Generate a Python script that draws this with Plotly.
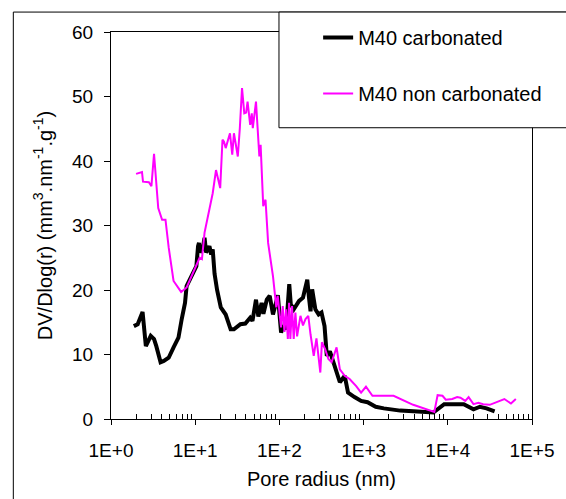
import numpy as np
import plotly.graph_objects as go

# log10 of pore radius (nm) and DV/Dlog(r)
carb_log_r = [0.271, 0.317, 0.375, 0.414, 0.472, 0.511, 0.538, 0.589, 0.627, 0.685,
              0.743, 0.801, 0.84, 0.879, 0.898, 0.956, 1.014, 1.034, 1.045, 1.06,
              1.09, 1.111, 1.13, 1.169, 1.19, 1.208, 1.23, 1.26, 1.304, 1.362,
              1.421, 1.46, 1.537, 1.595, 1.653, 1.68, 1.722, 1.75, 1.789, 1.81,
              1.85, 1.885, 1.924, 1.982, 2.02, 2.05, 2.079, 2.117, 2.135, 2.17,
              2.2, 2.234, 2.28, 2.331, 2.35, 2.37, 2.389, 2.427, 2.466, 2.5,
              2.536, 2.563, 2.6, 2.64, 2.68, 2.718, 2.776, 2.815, 2.892, 2.97,
              3.047, 3.144, 3.24, 3.434, 3.589, 3.829, 3.957, 4.015, 4.189, 4.305,
              4.382, 4.46, 4.556]
carb_dv = [14.4, 14.7, 16.6, 11.3, 12.9, 12.4, 11.3, 8.8, 9.0, 9.5,
           11.1, 12.6, 15.5, 18.0, 20.6, 22.1, 23.7, 26.8, 27.3, 25.8,
           26.5, 28.1, 25.8, 26.8, 25.5, 26.3, 22.5, 20.0, 17.3, 16.2,
           13.9, 13.9, 14.7, 14.8, 15.7, 15.2, 18.5, 15.9, 18.0, 16.3,
           18.5, 19.1, 16.2, 19.2, 13.4, 14.5, 13.9, 20.9, 17.8, 17.0,
           17.5, 18.3, 18.8, 21.6, 19.0, 16.7, 20.1, 17.0, 16.2, 16.5,
           14.4, 9.8, 10.5, 8.8, 7.5, 5.7, 6.7, 4.1, 3.4, 2.8,
           2.6, 1.9, 1.65, 1.3, 1.2, 1.0, 2.3, 2.3, 2.3, 1.5,
           1.9, 1.65, 1.2]

noncarb_log_r = [0.298, 0.368, 0.38, 0.45, 0.48, 0.511, 0.561, 0.607, 0.647, 0.685,
                 0.743, 0.833, 0.898, 1.034, 1.053, 1.08, 1.111, 1.208, 1.247, 1.297,
                 1.324, 1.342, 1.362, 1.413, 1.44, 1.46, 1.506, 1.53, 1.556, 1.583,
                 1.605, 1.622, 1.653, 1.672, 1.684, 1.722, 1.762, 1.777, 1.808, 1.835,
                 1.847, 1.866, 1.924, 1.963, 1.98, 2.02, 2.04, 2.06, 2.08, 2.10,
                 2.115, 2.13, 2.15, 2.17, 2.19, 2.21, 2.25, 2.28, 2.31, 2.343,
                 2.37, 2.408, 2.44, 2.486, 2.505, 2.544, 2.582, 2.62, 2.679, 2.718,
                 2.776, 2.834, 2.912, 2.97, 3.028, 3.105, 3.318, 3.356, 3.589, 3.84,
                 3.879, 3.937, 3.976, 4.053, 4.111, 4.15, 4.208, 4.247, 4.305, 4.363,
                 4.42, 4.498, 4.595, 4.672, 4.75, 4.808]
noncarb_dv = [38.0, 38.3, 36.8, 36.7, 36.1, 41.1, 32.7, 30.9, 30.9, 26.6,
              21.4, 19.7, 20.4, 24.7, 25.0, 24.8, 28.9, 35.0, 38.6, 35.8,
              43.3, 43.0, 42.0, 44.3, 41.0, 44.3, 40.7, 45.1, 51.3, 47.4,
              47.5, 49.2, 45.6, 47.4, 45.1, 49.2, 40.7, 42.5, 33.0, 34.0,
              30.9, 27.3, 22.1, 17.3, 19.1, 14.2, 17.5, 13.5, 17.0, 12.4,
              18.0, 12.4, 17.5, 12.4, 16.5, 12.8, 16.0, 14.5, 15.5, 16.0,
              13.1, 9.8, 12.5, 7.2, 11.9, 10.8, 9.3, 8.8, 11.1, 7.7,
              6.7, 6.2, 5.1, 4.1, 5.0, 3.6, 3.6, 3.6, 2.2, 1.1,
              3.7, 3.6, 3.0, 3.1, 3.4, 3.3, 2.8, 3.4, 2.3, 2.5,
              2.3, 2.2, 2.7, 3.1, 2.4, 3.1]

x_tickvals = [1, 10, 100, 1000, 10000, 100000]
x_ticktext = ["1E+0", "1E+1", "1E+2", "1E+3", "1E+4", "1E+5"]
series_names = ["M40 carbonated", "M40 non carbonated"]

carb_r = np.power(10.0, carb_log_r)
noncarb_r = np.power(10.0, noncarb_log_r)

minor_vals = [m * 10 ** d for d in range(5) for m in range(2, 10)]

FONT = "Liberation Sans, Arial, sans-serif"

fig = go.Figure()
fig.add_trace(go.Scatter(x=carb_r, y=carb_dv, mode="lines", name=series_names[0],
                         line=dict(color="black", width=4), legendgroup="a"))
fig.add_trace(go.Scatter(x=noncarb_r, y=noncarb_dv, mode="lines", name=series_names[1],
                         line=dict(color="#FF00FF", width=2), legendgroup="b"))

fig.update_layout(
    width=566, height=499,
    margin=dict(l=111, r=24, t=32, b=79),
    paper_bgcolor="white", plot_bgcolor="white",
    font=dict(family=FONT, size=19, color="black"),
    showlegend=True,
    legend=dict(x=0.492, xanchor="left", y=1.036, yanchor="top",
                bgcolor="rgba(0,0,0,0)", borderwidth=0,
                tracegroupgap=27, traceorder="grouped",
                font=dict(family=FONT, size=20, color="black")),
    xaxis=dict(type="log", range=[0, 5], tickvals=x_tickvals, ticktext=x_ticktext,
               ticks="outside", ticklen=5, tickwidth=1, tickcolor="black",
               ticklabelstandoff=9,
               showline=True, linecolor="black", linewidth=1, mirror=True,
               showgrid=False, zeroline=False,
               minor=dict(tickvals=minor_vals, ticks="inside", ticklen=5,
                          tickcolor="black", showgrid=False),
               title=dict(text="Pore radius (nm)", standoff=12,
                          font=dict(family=FONT, size=20)),
               tickfont=dict(family=FONT, size=19)),
    yaxis=dict(range=[0, 60], dtick=10, ticks="outside", ticklen=6, tickwidth=1,
               tickcolor="black", showline=True, linecolor="black", linewidth=1,
               mirror=True, showgrid=False, zeroline=False,
               ticklabelstandoff=7,
               title=dict(text="DV/Dlog(r) (mm<sup>3</sup>.nm<sup>-1</sup>.g<sup>-1</sup>)",
                          standoff=14, font=dict(family=FONT, size=20)),
               tickfont=dict(family=FONT, size=19)),
    shapes=[
        dict(type="rect", xref="paper", yref="paper", x0=-0.232, x1=1.2,
             y0=-0.3, y1=1.0515, line=dict(color="black", width=1),
             fillcolor="rgba(0,0,0,0)", layer="below"),
        dict(type="rect", xref="paper", yref="paper", x0=0.399, x1=1.2,
             y0=0.7526, y1=1.0515, line=dict(color="black", width=1),
             fillcolor="white", layer="above"),
    ],
)

fig.write_html("out.html")
